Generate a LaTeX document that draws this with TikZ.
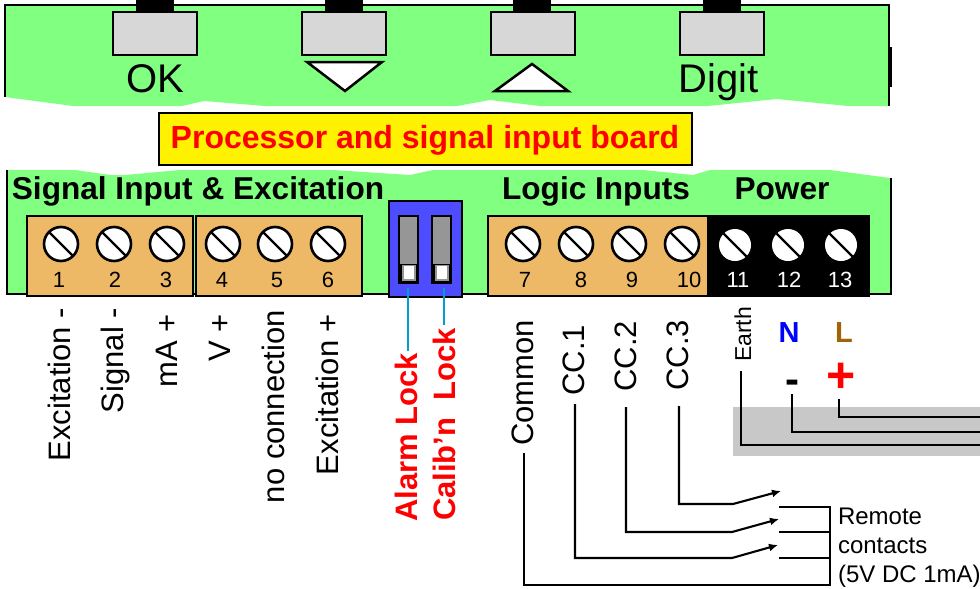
\documentclass[tikz,border=0pt]{standalone}
\usepackage{fontspec}
\setmainfont{Liberation Sans}
\usetikzlibrary{arrows.meta}
\definecolor{boardgreen}{HTML}{80FF80}
\definecolor{keygrey}{HTML}{D7D7D7}
\definecolor{termtan}{HTML}{EDB966}
\definecolor{dipblue}{HTML}{4D4DFF}
\definecolor{dipgrey}{HTML}{969696}
\definecolor{leadcyan}{HTML}{00A0CC}
\definecolor{bandgrey}{HTML}{C8C8C8}
\definecolor{livebrown}{HTML}{A06408}
\tikzset{
  txt/.style={inner sep=0pt,outer sep=0pt,anchor=base},
  keytxt/.style={txt,font=\fontsize{40}{40}\selectfont},
  headtxt/.style={txt,font=\bfseries\fontsize{31.6}{32}\selectfont},
  numtxt/.style={txt,font=\fontsize{22}{22}\selectfont},
  vertxt/.style={inner sep=0pt,outer sep=0pt,anchor=base east,rotate=90,font=\fontsize{31}{31}\selectfont},
  lockvert/.style={vertxt,text=red,font=\bfseries\fontsize{31}{31}\selectfont},
  keybox/.style={draw=black,line width=2.6pt,fill=keygrey},
  tab/.style={fill=black},
  tri/.style={draw=black,line width=2.5pt,fill=white,line join=miter},
  termblock/.style={draw=black,line width=2.6pt,fill=termtan},
  wire/.style={draw=black,line width=2.1pt,line join=miter},
  contact/.style={wire,-{Latex[length=9pt,width=8pt]}},
  lead/.style={draw=leadcyan,line width=2.8pt},
  smalltxt/.style={txt,anchor=base west,font=\fontsize{24}{24}\selectfont}
}
\begin{document}
\begin{tikzpicture}[x=1pt,y=-1pt]
\useasboundingbox (0,0) rectangle (980,589);
% upper board
\fill[boardgreen] (5,5) -- (889,5) -- (889,106) -- (848,106) -- (777,99) -- (708,106) -- (540,106) -- (490,100) -- (457,106) -- (265,106) -- (204,101) -- (182,106) -- (73,106) -- (5,97) -- cycle;
\draw[black,line width=2pt] (5,97) -- (5,5) -- (889,5) -- (889,106);
\fill[black] (889,47) rectangle (892,87);
\foreach \x in {136,325,513,703} \fill[black] (\x,0) rectangle (\x+38,12);
\foreach \x in {113,302,491,680} \draw[keybox] (\x,12) rectangle (\x+84,55);
\draw[tri] (307,62) -- (382,62) -- (345,91) -- cycle;
\draw[tri] (532,64) -- (568,91) -- (495,91) -- cycle;
\node[keytxt] (ok) at (155,92) {OK};
\node[keytxt] (digit) at (719,92) {Digit};
% title
\node[draw=black,line width=1.5pt,fill=yellow,minimum width=533pt,minimum height=52pt,inner sep=0pt] (board) at (425.5,139) {};
\node[txt,text=red,font=\bfseries\fontsize{32}{32}\selectfont] (boardtxt) at (425,148) {Processor and signal input board};
% lower board
\fill[boardgreen] (7,170) -- (75,170) -- (110,175) -- (125,175) -- (180,170) -- (333,170) -- (410,175) -- (433,170) -- (643,170) -- (693,175) -- (710,170) -- (830,170) -- (890,178) -- (891,294) -- (7,294) -- cycle;
\draw[black,line width=2pt] (7,170) -- (7,294) -- (891,294) -- (891,178);
\node[headtxt] (h1) at (198,199) {Signal Input \& Excitation};
\node[headtxt] (h2) at (596,199) {Logic Inputs};
\node[headtxt] (h3) at (782,199) {Power};
% terminal blocks
\draw[termblock] (27,216) rectangle (193,296);
\draw[termblock] (196,216) rectangle (362,296);
\draw[termblock] (488,216) rectangle (708,296);
\fill[black] (708,215) rectangle (870,297);
\foreach \x in {61,114,167,223,275,328,523,576,629,682} {
  \draw[black,line width=2.6pt,fill=white] (\x,244) circle [radius=17pt];
  \draw[black,line width=2.3pt] (\x-12,244-12) -- (\x+12,244+12);
}
\foreach \x in {735,788,841} {
  \fill[white] (\x,245) circle [radius=16pt];
  \draw[black,line width=2.3pt] (\x-11.5,245-11.5) -- (\x+11.5,245+11.5);
}
\foreach \t/\x in {1/59,2/115,3/166,4/222,5/277,6/328,7/525,8/581,9/632,10/689}
  \node[numtxt] (n\t) at (\x,287) {\t};
\foreach \t/\x in {11/738,12/789,13/840}
  \node[numtxt,text=white] (n\t) at (\x,287) {\t};
% DIP switches
\draw[black,line width=2.4pt,fill=dipblue] (389,201) rectangle (462,297);
\foreach \x in {399,432} {
  \draw[black,line width=2.6pt,fill=dipgrey] (\x,216) rectangle (\x+19,283);
  \fill[black] (\x,264) rectangle (\x+19,283);
  \fill[dipgrey] (\x+3,265) rectangle (\x+17,281);
  \fill[white] (\x+5,266) rectangle (\x+15,279);
}
\coordinate (la) at (408,288);
\coordinate (lb) at (444,288);
\coordinate (lae) at (408,351);
\coordinate (lbe) at (444,325);
\draw[lead] (la) -- (lae);
\draw[lead] (lb) -- (lbe);
% rotated labels
\node[vertxt] (l1) at (70,308) {Excitation -};
\node[vertxt] (l2) at (123,308) {Signal -};
\node[vertxt] (l3) at (177,314) {mA +};
\node[vertxt] (l4) at (230,314) {V +};
\node[vertxt] (l5) at (284,310) {no connection};
\node[vertxt] (l6) at (338,314) {Excitation +};
\node[lockvert] (alarm) at (417,353) {Alarm Lock};
\node[lockvert] (calib) at (455,328) {Calib’n\ \ Lock};
\node[vertxt] (common) at (533,320) {Common};
\node[vertxt] (cc1) at (584,325) {CC.1};
\node[vertxt] (cc2) at (636,321) {CC.2};
\node[vertxt] (cc3) at (688,320) {CC.3};
\node[vertxt,font=\fontsize{23}{23}\selectfont] (earth) at (751,307) {Earth};
% power wiring
\fill[bandgrey] (733,407) rectangle (980,456);
\node[txt,text=blue,font=\bfseries\fontsize{29}{29}\selectfont] (nn) at (789,342) {N};
\node[txt,text=livebrown,font=\bfseries\fontsize{29}{29}\selectfont] (ll) at (844,342) {L};
\node[inner sep=0pt,text=black,font=\bfseries\fontsize{42}{42}\selectfont] (minus) at (792,387) {-};
\node[inner sep=0pt,text=red,font=\bfseries\fontsize{50}{50}\selectfont] (plus) at (841,378) {+};
\coordinate (es) at (741,371);
\coordinate (ee) at (980,445);
\coordinate (ms) at (792,394);
\coordinate (me) at (980,432);
\coordinate (ps) at (839,399);
\coordinate (pe) at (980,417);
\draw[wire] (es) |- (ee);
\draw[wire] (ms) |- (me);
\draw[wire] (ps) |- (pe);
% remote contacts
\coordinate (cs) at (524,453);
\coordinate (cj) at (830,507);
\coordinate (f3) at (779,507);
\coordinate (f2) at (779,532);
\coordinate (f1) at (779,558);
\coordinate (j2) at (830,532);
\coordinate (j1) at (830,558);
\coordinate (s1) at (575,404);
\coordinate (s2) at (626,407);
\coordinate (s3) at (679,406);
\coordinate (k1) at (732,558);
\coordinate (k2) at (732,532);
\coordinate (k3) at (733,504);
\coordinate (t1) at (778,545);
\coordinate (t2) at (779,519);
\coordinate (t3) at (781,491);
\draw[wire] (cs) -- (524,585) -- (830,585) -- (cj) -- (f3);
\draw[wire] (f2) -- (j2);
\draw[wire] (f1) -- (j1);
\draw[contact] (s1) |- (k1) -- (t1);
\draw[contact] (s2) |- (k2) -- (t2);
\draw[contact] (s3) |- (k3) -- (t3);
\node[smalltxt] (r1) at (838,524) {Remote};
\node[smalltxt] (r2) at (838,553) {contacts};
\node[smalltxt] (r3) at (838,582) {(5V DC 1mA)};
\end{tikzpicture}
\end{document}
